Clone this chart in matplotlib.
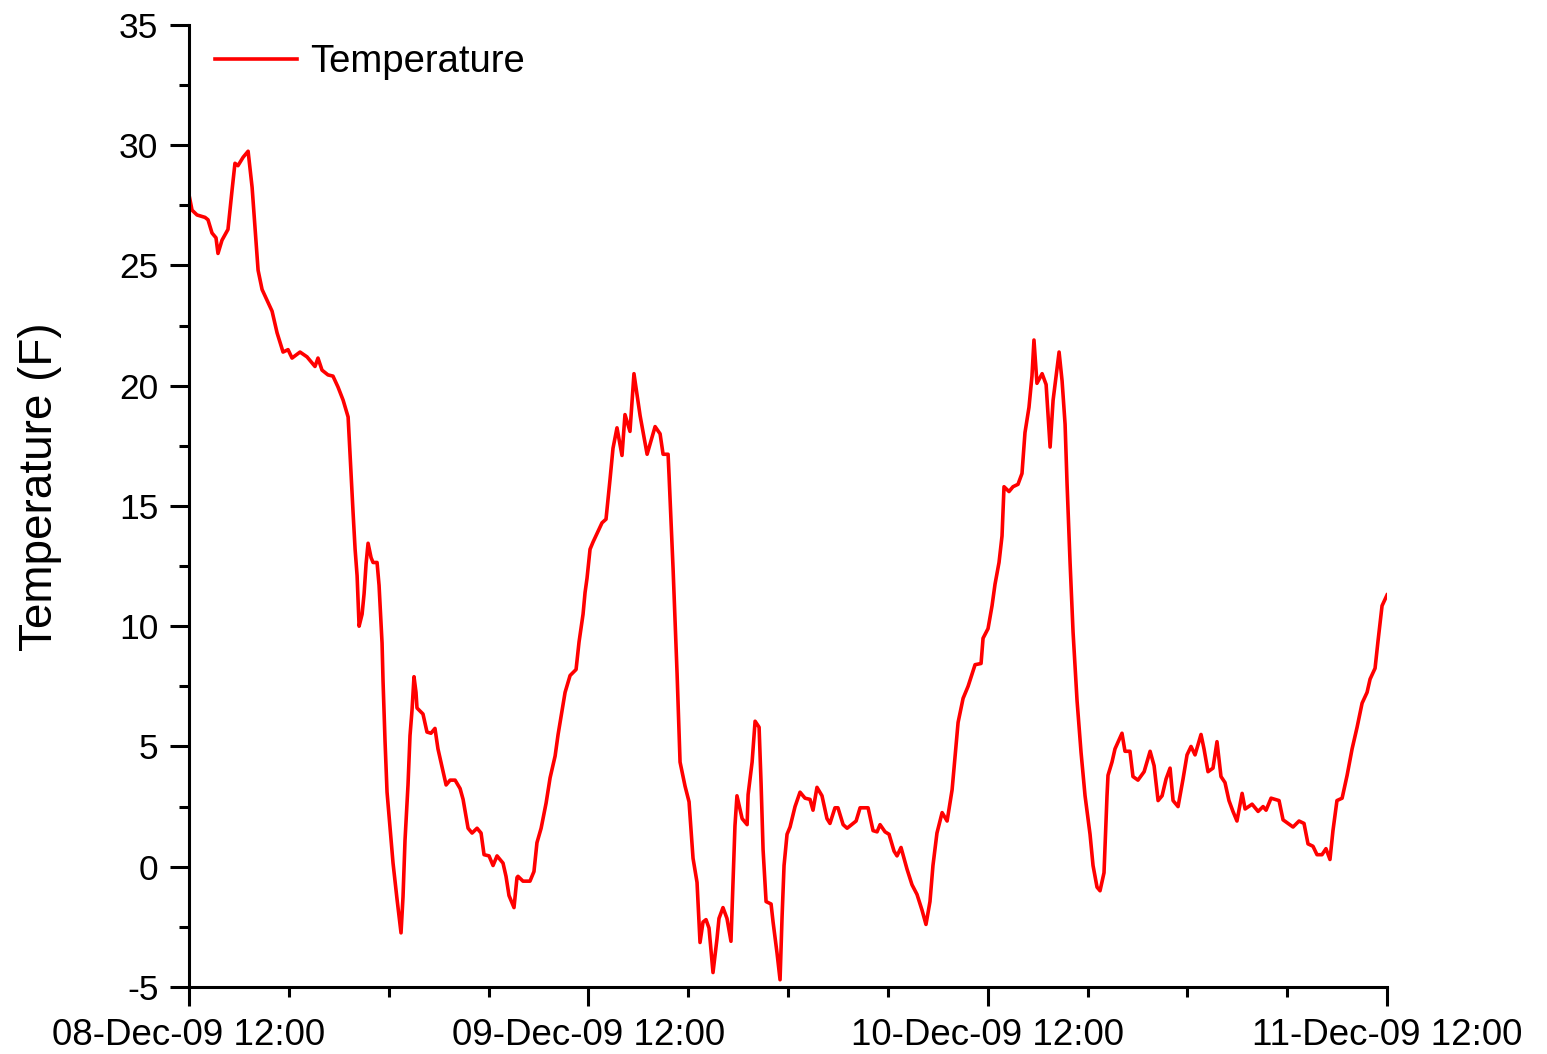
import numpy as np
import matplotlib as mpl
mpl.use('Agg')
import matplotlib.pyplot as plt
from matplotlib.ticker import FixedLocator, FuncFormatter, MultipleLocator
from datetime import datetime, timedelta

# logger readings, hours after 08-Dec-09 12:00, temperature in F
hours = [
   0.00, 0.18, 0.48, 0.96, 1.14, 1.38, 1.62, 1.74, 1.98, 2.34, 2.58, 2.76, 2.94, 3.25, 3.55, 3.79,
   3.97, 4.15, 4.39, 4.69, 4.99, 5.29, 5.65, 5.95, 6.19, 6.67, 7.09, 7.57, 7.75, 7.99, 8.35, 8.65,
   8.95, 9.26, 9.56, 9.74, 9.86, 9.98, 10.10, 10.16, 10.22, 10.40, 10.52, 10.64, 10.76, 10.94, 11.06, 11.30,
   11.42, 11.60, 11.66, 11.78, 11.90, 12.08, 12.26, 12.50, 12.74, 12.86, 12.98, 13.16, 13.28, 13.40, 13.52, 13.64,
   13.70, 14.06, 14.30, 14.54, 14.78, 14.96, 15.45, 15.69, 15.99, 16.29, 16.47, 16.77, 17.01, 17.31, 17.55, 17.73,
   18.03, 18.27, 18.51, 18.87, 19.05, 19.23, 19.53, 19.71, 19.77, 20.07, 20.49, 20.73, 20.91, 21.16, 21.46, 21.70,
   22.00, 22.18, 22.42, 22.60, 22.90, 23.26, 23.44, 23.68, 23.80, 23.92, 24.10, 24.28, 24.82, 25.06, 25.30, 25.48,
   25.72, 26.02, 26.20, 26.50, 26.74, 27.11, 27.53, 28.01, 28.31, 28.49, 28.79, 28.85, 29.09, 29.33, 29.51, 29.81,
   30.05, 30.29, 30.53, 30.71, 30.89, 31.07, 31.25, 31.49, 31.73, 31.85, 32.09, 32.33, 32.57, 32.69, 32.81, 32.93,
   33.24, 33.54, 33.60, 33.84, 34.02, 34.26, 34.38, 34.50, 34.68, 34.98, 35.10, 35.34, 35.52, 35.64, 35.76, 35.94,
   36.12, 36.42, 36.72, 37.02, 37.32, 37.50, 37.74, 38.04, 38.34, 38.52, 38.82, 39.00, 39.31, 39.55, 39.91, 40.09,
   40.33, 40.81, 41.11, 41.35, 41.53, 41.83, 42.07, 42.37, 42.55, 42.79, 43.15, 43.45, 43.75, 44.05, 44.29, 44.53,
   44.71, 44.95, 45.26, 45.56, 45.86, 46.04, 46.22, 46.52, 46.82, 47.24, 47.60, 47.72, 48.02, 48.26, 48.44, 48.68,
   48.86, 48.98, 49.28, 49.52, 49.82, 50.06, 50.24, 50.48, 50.66, 50.78, 50.96, 51.27, 51.51, 51.75, 51.93, 52.11,
   52.29, 52.47, 52.65, 52.77, 52.95, 53.13, 53.37, 53.61, 53.85, 54.15, 54.33, 54.57, 54.75, 54.99, 55.17, 55.23,
   55.47, 55.65, 56.07, 56.25, 56.55, 56.73, 57.03, 57.40, 57.76, 58.00, 58.24, 58.48, 58.72, 58.96, 59.14, 59.44,
   59.74, 59.98, 60.22, 60.46, 60.82, 61.00, 61.24, 61.54, 61.78, 62.02, 62.26, 62.50, 62.74, 62.98, 63.29, 63.47,
   63.89, 64.25, 64.55, 64.73, 65.03, 65.51, 65.75, 66.05, 66.35, 66.71, 67.01, 67.25, 67.55, 67.79, 68.09, 68.33,
   68.57, 68.75, 68.99, 69.30, 69.60, 69.90, 70.20, 70.50, 70.80, 70.98, 71.28, 71.46, 71.70, 72.00,
]
temps = [
   27.93, 27.3, 27.1, 27.0, 26.9, 26.35, 26.15, 25.5, 26.05, 26.5, 28.1, 29.25, 29.15, 29.5, 29.75, 28.25,
   26.5, 24.8, 24.0, 23.55, 23.1, 22.2, 21.4, 21.5, 21.15, 21.4, 21.2, 20.8, 21.15, 20.65, 20.45, 20.4,
   19.95, 19.4, 18.7, 16.3, 14.7, 13.2, 12.1, 11.1, 10.0, 10.5, 11.35, 12.6, 13.45, 12.85, 12.65, 12.65,
   11.7, 9.3, 7.7, 5.2, 3.1, 1.65, 0.15, -1.35, -2.75, -1.25, 1.1, 3.4, 5.45, 6.5, 7.9, 7.25,
   6.6, 6.35, 5.6, 5.55, 5.75, 4.9, 3.4, 3.6, 3.6, 3.25, 2.8, 1.6, 1.4, 1.6, 1.4, 0.5,
   0.45, 0.05, 0.45, 0.15, -0.4, -1.2, -1.7, -0.45, -0.4, -0.6, -0.6, -0.2, 1.0, 1.6, 2.65, 3.7,
   4.6, 5.5, 6.5, 7.25, 7.95, 8.2, 9.35, 10.5, 11.4, 12.0, 13.2, 13.5, 14.3, 14.45, 16.1, 17.4,
   18.25, 17.1, 18.8, 18.1, 20.5, 18.75, 17.15, 18.3, 18.0, 17.15, 17.15, 16.25, 12.4, 8.05, 4.35, 3.35,
   2.7, 0.35, -0.65, -3.15, -2.3, -2.2, -2.55, -4.4, -3.0, -2.15, -1.7, -2.15, -3.1, -0.75, 1.7, 2.95,
   2.0, 1.75, 3.0, 4.35, 6.05, 5.8, 3.45, 0.7, -1.45, -1.55, -2.3, -3.6, -4.7, -2.1, 0.05, 1.35,
   1.65, 2.5, 3.1, 2.85, 2.8, 2.35, 3.3, 2.95, 2.0, 1.8, 2.45, 2.45, 1.75, 1.6, 1.8, 1.9,
   2.45, 2.45, 1.5, 1.45, 1.75, 1.45, 1.35, 0.65, 0.45, 0.8, -0.1, -0.75, -1.15, -1.8, -2.4, -1.45,
   0.05, 1.4, 2.25, 1.9, 3.2, 4.6, 6.0, 7.0, 7.5, 8.4, 8.45, 9.5, 9.9, 10.85, 11.75, 12.65,
   13.75, 15.8, 15.6, 15.8, 15.9, 16.35, 18.05, 19.1, 20.4, 21.9, 20.1, 20.5, 20.05, 17.45, 19.4, 20.4,
   21.4, 20.2, 18.4, 15.9, 12.65, 9.75, 6.9, 4.75, 2.95, 1.35, 0.05, -0.85, -1.0, -0.25, 2.95, 3.8,
   4.35, 4.9, 5.55, 4.8, 4.8, 3.75, 3.6, 3.95, 4.8, 4.2, 2.75, 2.95, 3.65, 4.1, 2.75, 2.5,
   3.65, 4.65, 5.0, 4.65, 5.5, 4.9, 3.95, 4.1, 5.2, 3.75, 3.5, 2.75, 2.3, 1.9, 3.05, 2.4,
   2.6, 2.3, 2.5, 2.35, 2.85, 2.75, 1.95, 1.8, 1.65, 1.9, 1.8, 0.95, 0.85, 0.5, 0.5, 0.75,
   0.3, 1.5, 2.75, 2.85, 3.8, 4.9, 5.8, 6.8, 7.25, 7.8, 8.25, 9.4, 10.85, 11.3,
]

start = datetime(2009, 12, 8, 12, 0)

plt.rcParams['font.family'] = ['Liberation Sans', 'DejaVu Sans']
plt.rcParams['axes.unicode_minus'] = False

fig = plt.figure(figsize=(15.47, 10.54), dpi=100)
ax = fig.add_axes([0.1222, 0.0636, 0.7744, 0.9127])

ax.plot(hours, temps, color='#ff0000', lw=2.6, label='Temperature')

ax.set_xlim(0, 72)
ax.set_ylim(-5, 35)

def tick_label(h, pos):
   h = int(round(float(h)))
   return (start + timedelta(hours=h)).strftime('%d-%b-%y %H:%M')

# labelled ticks once a day, short ones every 6 hours
ax.xaxis.set_major_locator(FixedLocator(np.arange(0, 73, 24)))
ax.xaxis.set_minor_locator(FixedLocator(np.arange(0, 73, 6)))
ax.xaxis.set_major_formatter(FuncFormatter(tick_label))
ax.yaxis.set_major_locator(MultipleLocator(5))
ax.yaxis.set_minor_locator(MultipleLocator(2.5))

for s in ['top', 'right']:
   ax.spines[s].set_visible(False)
for s in ['left', 'bottom']:
   ax.spines[s].set_linewidth(2.2)

ax.tick_params(axis='both', which='major', direction='out', length=14, width=2.2, pad=8)
ax.tick_params(axis='both', which='minor', direction='out', length=7.5, width=2.2)
ax.tick_params(axis='x', which='major', labelsize=26.5)
ax.tick_params(axis='y', which='major', labelsize=25.5)

ax.set_ylabel('Temperature (F)', fontsize=33)
ax.yaxis.set_label_coords(-0.106, 0.52)

ax.legend(loc='upper left', frameon=False, fontsize=27.5, handlelength=2.15,
          handletextpad=0.35, borderpad=0.4, borderaxespad=0.0,
          bbox_to_anchor=(0.009, 0.996))

fig.savefig('out.png')
